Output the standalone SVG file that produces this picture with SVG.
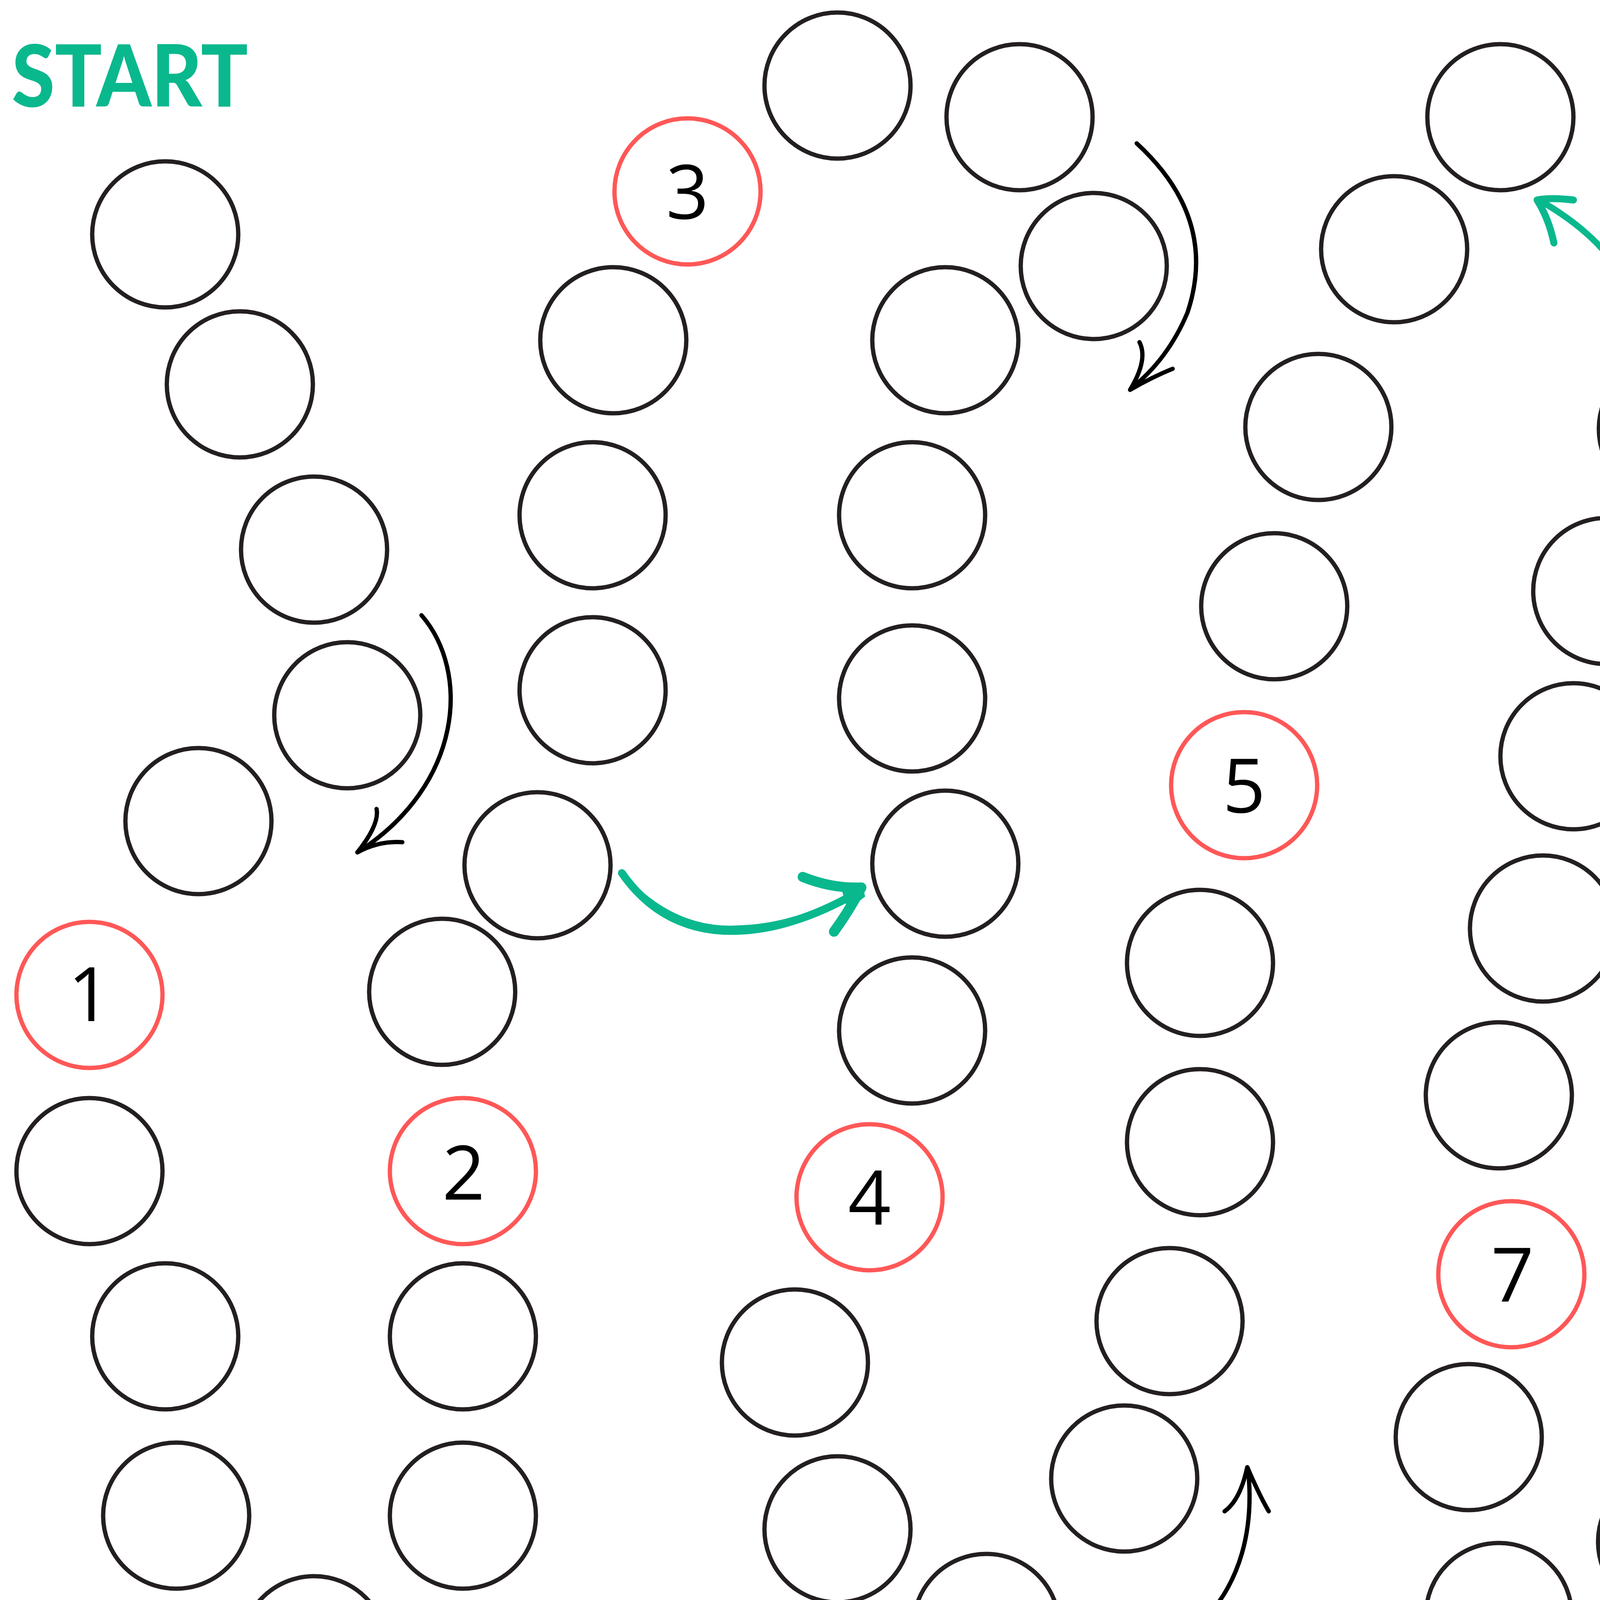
<svg xmlns="http://www.w3.org/2000/svg" width="5530" height="4424" viewBox="0 0 5530 4424">
<style>
.c{fill:none;stroke:#231f20;stroke-width:11}
.r{fill:none;stroke:#ff5757;stroke-width:11}
.n{font-family:"Open Sans","Noto Sans",sans-serif;font-size:192px;fill:#000;text-anchor:middle}
.ab{fill:none;stroke:#000;stroke-width:11;stroke-linecap:round;stroke-linejoin:round}
.ag{fill:none;stroke:#0ab88e;stroke-linecap:round;stroke-linejoin:round}
.t{font-family:Lato,"Liberation Sans",sans-serif;font-weight:900;fill:#0ab88e}
</style>
<rect width="5530" height="4424" fill="#fff"/>
<g id="title-start"><text class="t" x="30" y="273" font-size="220" textLength="605" lengthAdjust="spacingAndGlyphs">START</text></g>
<g id="title-cil"><text class="t" x="5220" y="3100" font-size="220" textLength="268" lengthAdjust="spacingAndGlyphs">CÍL</text></g>
<g id="n1"><circle class="c" cx="423" cy="600" r="187"/></g>
<g id="n2"><circle class="c" cx="614" cy="984" r="187"/></g>
<g id="n3"><circle class="c" cx="804" cy="1407" r="187"/></g>
<g id="n4"><circle class="c" cx="889" cy="1831" r="187"/></g>
<g id="n5"><circle class="c" cx="508" cy="2102" r="187"/></g>
<g id="n6"><circle class="r" cx="229" cy="2547" r="187"/><text class="n" x="229" y="2614">1</text></g>
<g id="n7"><circle class="c" cx="229" cy="2998" r="187"/></g>
<g id="n8"><circle class="c" cx="423" cy="3421" r="187"/></g>
<g id="n9"><circle class="c" cx="451" cy="3880" r="187"/></g>
<g id="n10"><circle class="c" cx="804" cy="4222" r="187"/></g>
<g id="n11"><circle class="c" cx="1185" cy="3880" r="187"/></g>
<g id="n12"><circle class="c" cx="1185" cy="3421" r="187"/></g>
<g id="n13"><circle class="r" cx="1185" cy="2998" r="187"/><text class="n" x="1187" y="3071">2</text></g>
<g id="n14"><circle class="c" cx="1132" cy="2539" r="187"/></g>
<g id="n15"><circle class="c" cx="1376" cy="2215" r="187"/></g>
<g id="n16"><circle class="c" cx="1517" cy="1767" r="187"/></g>
<g id="n17"><circle class="c" cx="1517" cy="1319" r="187"/></g>
<g id="n18"><circle class="c" cx="1570" cy="871" r="187"/></g>
<g id="n19"><circle class="r" cx="1760" cy="490" r="187"/><text class="n" x="1760" y="560">3</text></g>
<g id="n20"><circle class="c" cx="2144" cy="219" r="187"/></g>
<g id="n21"><circle class="c" cx="2610" cy="300" r="187"/></g>
<g id="n22"><circle class="c" cx="2800" cy="681" r="187"/></g>
<g id="n23"><circle class="c" cx="2420" cy="871" r="187"/></g>
<g id="n24"><circle class="c" cx="2335" cy="1319" r="187"/></g>
<g id="n25"><circle class="c" cx="2335" cy="1788" r="187"/></g>
<g id="n26"><circle class="c" cx="2420" cy="2211" r="187"/></g>
<g id="n27"><circle class="c" cx="2335" cy="2638" r="187"/></g>
<g id="n28"><circle class="r" cx="2226" cy="3065" r="187"/><text class="n" x="2226" y="3135">4</text></g>
<g id="n29"><circle class="c" cx="2035" cy="3488" r="187"/></g>
<g id="n30"><circle class="c" cx="2144" cy="3915" r="187"/></g>
<g id="n31"><circle class="c" cx="2525" cy="4165" r="187"/></g>
<g id="n32"><circle class="c" cx="2878" cy="3785" r="187"/></g>
<g id="n33"><circle class="c" cx="2994" cy="3382" r="187"/></g>
<g id="n34"><circle class="c" cx="3072" cy="2924" r="187"/></g>
<g id="n35"><circle class="c" cx="3072" cy="2465" r="187"/></g>
<g id="n36"><circle class="r" cx="3185" cy="2010" r="187"/><text class="n" x="3185" y="2080">5</text></g>
<g id="n37"><circle class="c" cx="3262" cy="1552" r="187"/></g>
<g id="n38"><circle class="c" cx="3375" cy="1093" r="187"/></g>
<g id="n39"><circle class="c" cx="3569" cy="638" r="187"/></g>
<g id="n40"><circle class="c" cx="3841" cy="300" r="187"/></g>
<g id="n41"><circle class="c" cx="4305" cy="220" r="187"/></g>
<g id="n42"><circle class="r" cx="4770" cy="240" r="187"/><text class="n" x="4776" y="317">6</text></g>
<g id="n43"><circle class="c" cx="5235" cy="345" r="187"/></g>
<g id="n44"><circle class="c" cx="5235" cy="833" r="187"/></g>
<g id="n45"><circle class="c" cx="5125" cy="1257" r="187"/></g>
<g id="n46"><circle class="c" cx="4689" cy="1218" r="187"/></g>
<g id="n47"><circle class="c" cx="4280" cy="1098" r="187"/></g>
<g id="n48"><circle class="c" cx="4112" cy="1513" r="187"/></g>
<g id="n49"><circle class="c" cx="4028" cy="1936" r="187"/></g>
<g id="n50"><circle class="c" cx="3950" cy="2377" r="187"/></g>
<g id="n51"><circle class="c" cx="3837" cy="2804" r="187"/></g>
<g id="n52"><circle class="r" cx="3869" cy="3262" r="187"/><text class="n" x="3872" y="3332">7</text></g>
<g id="n53"><circle class="c" cx="3760" cy="3679" r="187"/></g>
<g id="n54"><circle class="c" cx="3837" cy="4137" r="187"/></g>
<g id="n55"><circle class="c" cx="4278" cy="3947" r="187"/></g>
<g id="n56"><circle class="c" cx="4469" cy="3495" r="187"/></g>
<g id="n57"><circle class="c" cx="4640" cy="3047" r="187"/></g>
<g id="n58"><circle class="r" cx="4770" cy="2640" r="187"/><text class="n" x="4776" y="2712">8</text></g>
<g id="n59"><circle class="c" cx="4962" cy="2235" r="187"/></g>
<g id="n60"><circle class="c" cx="5344" cy="2598" r="187"/></g>
<g id="connectors">
<g id="arrow-1">
<path class="ab" d="M1079,1575 C1205,1720 1185,2010 915,2182"/>
<path class="ab" d="M964,2071 Q972,2110 915,2182 Q970,2152 1030,2156"/>
</g>
<g id="arrow-2">
<path class="ag" stroke-width="20" d="M1592,2235 Q1700,2390 1890,2383 Q2030,2378 2195,2285"/>
<path class="ag" stroke-width="14" d="M1620,2270 Q1740,2385 1890,2376 Q2030,2372 2160,2300"/>
<path class="ag" stroke-width="26" d="M2055,2245 Q2130,2275 2205,2272 Q2175,2330 2135,2385"/>
<path fill="#0ab88e" d="M2150,2262 L2205,2262 L2215,2295 L2170,2330 Z"/>
</g>
<g id="arrow-3">
<path class="ab" d="M2910,367 Q3120,560 3040,800 Q2990,920 2895,995"/>
<path class="ab" d="M2917,876 Q2940,920 2893,998 Q2950,965 3002,944"/>
</g>
<g id="arrow-4">
<path class="ag" stroke-width="16" d="M4185,903 C4205,780 4160,640 3945,515"/>
<path class="ag" stroke-width="18" d="M4028,512 Q3970,505 3935,512 Q3965,560 3978,622"/>
</g>
<g id="arrow-5">
<path class="ab" d="M5265,3 C5430,60 5540,200 5527,380 C5520,480 5490,540 5460,600"/>
<path class="ab" d="M5437,480 Q5462,510 5458,600 Q5490,550 5530,518"/>
</g>
<g id="arrow-6">
<path class="ab" d="M2817,4270 C3020,4255 3230,4090 3195,3760"/>
<path class="ab" d="M3135,3869 Q3175,3840 3193,3756 Q3225,3830 3248,3869"/>
</g>
</g>
</svg>
